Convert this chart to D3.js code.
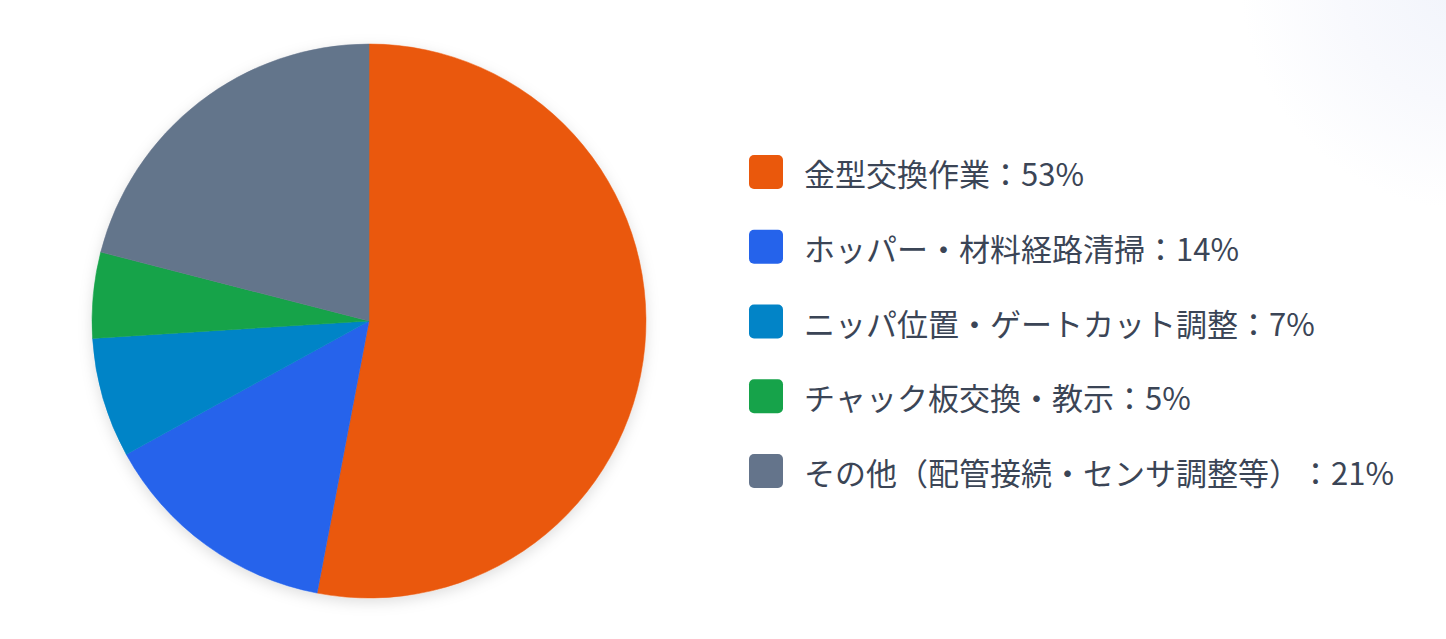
<!DOCTYPE html>
<html>
<head>
<meta charset="utf-8">
<script src="https://cdn.jsdelivr.net/npm/d3@7"></script>
<style>
  html, body { margin: 0; padding: 0; background: #fff; }
  svg { display: block; }
  .legend text { text-spacing-trim: space-all; font-kerning: none; }
</style>
</head>
<body>
<div id="chart"></div>
<script>
// data
const categories = [
    "金型交換作業",
    "ホッパー・材料経路清掃",
    "ニッパ位置・ゲートカット調整",
    "チャック板交換・教示",
    "その他（配管接続・センサ調整等）"
];
const values = [53, 14, 7, 5, 21];
const colors = ["#ea580c", "#2563eb", "#0284c7", "#16a34a", "#64748b"];

const width = 1446;
const height = 639;

const svg = d3.select("#chart").append("svg")
    .attr("width", width)
    .attr("height", height)
    .attr("viewBox", `0 0 ${width} ${height}`);

const defs = svg.append("defs");

// faint tint in the top right corner
const bg = defs.append("radialGradient")
    .attr("id", "cornerTint")
    .attr("gradientUnits", "userSpaceOnUse")
    .attr("cx", 1470).attr("cy", -20).attr("r", 230);
bg.append("stop").attr("offset", "0%").attr("stop-color", "#f1f4fb");
bg.append("stop").attr("offset", "55%").attr("stop-color", "#f8f9fd");
bg.append("stop").attr("offset", "100%").attr("stop-color", "#ffffff");

svg.append("rect")
    .attr("width", width).attr("height", height)
    .attr("fill", "url(#cornerTint)");

const shadow = defs.append("filter")
    .attr("id", "pieShadow")
    .attr("x", "-20%").attr("y", "-20%")
    .attr("width", "140%").attr("height", "140%");
shadow.append("feDropShadow")
    .attr("dx", 0).attr("dy", 4)
    .attr("stdDeviation", 7)
    .attr("flood-color", "#000")
    .attr("flood-opacity", 0.13);

const data = categories.map((c, i) => ({ name: c, value: values[i], color: colors[i] }));

const cx = 369, cy = 321, radius = 277;

const pie = d3.pie().value(d => d.value).sort(null);
const arc = d3.arc().innerRadius(0).outerRadius(radius);

const pieGroup = svg.append("g")
    .attr("transform", `translate(${cx},${cy})`)
    .attr("filter", "url(#pieShadow)");

pieGroup.selectAll("path")
    .data(pie(data))
    .join("path")
    .attr("d", arc)
    .attr("fill", d => d.data.color)
    .attr("stroke", d => d.data.color)
    .attr("stroke-width", 0.5);

// legend
const legendY = d3.scalePoint()
    .domain(categories)
    .range([172, 471]);

const legend = svg.append("g").attr("class", "legend");

const item = legend.selectAll("g")
    .data(data)
    .join("g")
    .attr("transform", d => `translate(749, ${legendY(d.name)})`);

item.append("rect")
    .attr("x", 0)
    .attr("y", -17)
    .attr("width", 34)
    .attr("height", 34)
    .attr("rx", 5)
    .attr("fill", d => d.color);

item.append("text")
    .attr("x", 55)
    .attr("y", 14)
    .attr("font-family", "'Noto Sans CJK JP', 'Noto Sans', sans-serif")
    .attr("font-size", 31)
    .attr("fill", "#3b4556")
    .text(d => `${d.name}：${d.value}%`);
</script>
</body>
</html>
